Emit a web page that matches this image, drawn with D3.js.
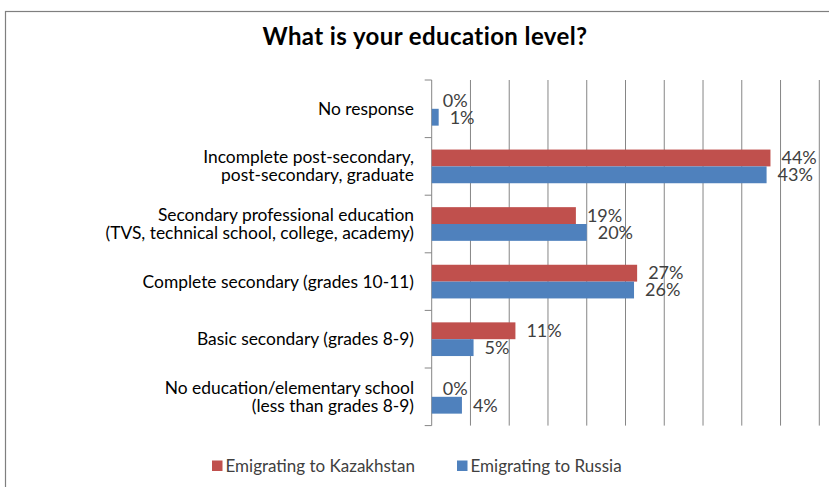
<!DOCTYPE html>
<html><head><meta charset="utf-8">
<script src="https://cdn.jsdelivr.net/npm/d3@7"></script>
<style>body{margin:0;background:#fff;} svg{display:block;}</style>
</head><body>
<svg id="chart" width="829" height="487"></svg>
<script>
const title = "What is your education level?";
const categories = [
  ["No response"],
  ["Incomplete post-secondary,", "post-secondary, graduate"],
  ["Secondary professional education", "(TVS, technical school, college, academy)"],
  ["Complete secondary (grades 10-11)"],
  ["Basic secondary (grades 8-9)"],
  ["No education/elementary school", "(less than grades 8-9)"]
];
const seriesNames = ["Emigrating to Kazakhstan", "Emigrating to Russia"];
const kazakhstan = [0, 43.7, 18.6, 26.5, 10.8, 0];
const russia = [0.9, 43.2, 20.0, 26.1, 5.4, 3.9];
const xTicks = [0, 5, 10, 15, 20, 25, 30, 35, 40, 45, 50];
const colors = ["#C0504D", "#4F81BD"];

const svg = d3.select("#chart");
const font = "Lato, 'Open Sans', sans-serif";
const textCol = "#404040";

// outer border
svg.append("rect").attr("x", 5.5).attr("y", 11.5).attr("width", 840).attr("height", 490)
  .attr("fill", "none").attr("stroke", "#7f7f7f").attr("stroke-width", 1.2);

svg.append("text").attr("x", 425).attr("y", 45).attr("text-anchor", "middle")
  .attr("font-family", font).attr("font-weight", "bold").attr("font-size", 24)
  .attr("letter-spacing", 0.4)
  .attr("fill", "#000").text(title);

const x = d3.scaleLinear().domain([0, 50]).range([431.7, 819.3]);
const idx = d3.range(categories.length);
const y0 = d3.scaleBand().domain(idx).range([80, 425.6]).padding(0);
const y1 = d3.scaleBand().domain([0, 1]).range([0, y0.bandwidth()]).paddingOuter(0.71).paddingInner(0);

// gridlines
svg.append("g").selectAll("line").data(xTicks).join("line")
  .attr("x1", d => x(d)).attr("x2", d => x(d))
  .attr("y1", 80).attr("y2", 425.6)
  .attr("stroke", "#868686").attr("stroke-width", 1);

// category ticks
const bounds = d3.range(categories.length + 1).map(i => i < categories.length ? y0(i) : y0(categories.length - 1) + y0.bandwidth());
svg.append("g").selectAll("line").data(bounds).join("line")
  .attr("x1", x(0) - 7).attr("x2", x(0)).attr("y1", d => d).attr("y2", d => d)
  .attr("stroke", "#868686").attr("stroke-width", 1);

const data = [kazakhstan, russia];
data.forEach((vals, s) => {
  const g = svg.append("g");
  g.selectAll("rect").data(vals).join("rect")
    .attr("x", x(0)).attr("y", (d, i) => y0(i) + y1(s))
    .attr("width", d => x(d) - x(0)).attr("height", y1.bandwidth())
    .attr("fill", colors[s]);
  g.selectAll("text").data(vals).join("text")
    .attr("x", d => x(d) + 11)
    .attr("y", (d, i) => y0(i) + y1(s) + y1.bandwidth() / 2)
    .attr("dy", "0.35em")
    .attr("font-family", font).attr("font-size", 18).attr("fill", textCol)
    .text(d => Math.round(d) + "%");
});

// category labels
const cl = svg.append("g");
categories.forEach((lines, i) => {
  const cy = y0(i) + y0.bandwidth() / 2;
  const lh = 18;
  const t = cl.append("text").attr("text-anchor", "end")
    .attr("font-family", font).attr("font-size", 17.4).attr("fill", "#000");
  lines.forEach((ln, j) => {
    t.append("tspan").attr("x", 414)
      .attr("y", cy + (j - (lines.length - 1) / 2) * lh)
      .attr("dy", "0.35em").text(ln);
  });
});

// legend
const legX = [212, 457];
seriesNames.forEach((n, s) => {
  svg.append("rect").attr("x", legX[s]).attr("y", 460.5).attr("width", 10.5).attr("height", 10.5).attr("fill", colors[s]);
  svg.append("text").attr("x", legX[s] + 13.5).attr("y", 466).attr("dy", "0.35em")
    .attr("font-family", font).attr("font-size", 17).attr("fill", textCol).text(n);
});
</script>
</body></html>
